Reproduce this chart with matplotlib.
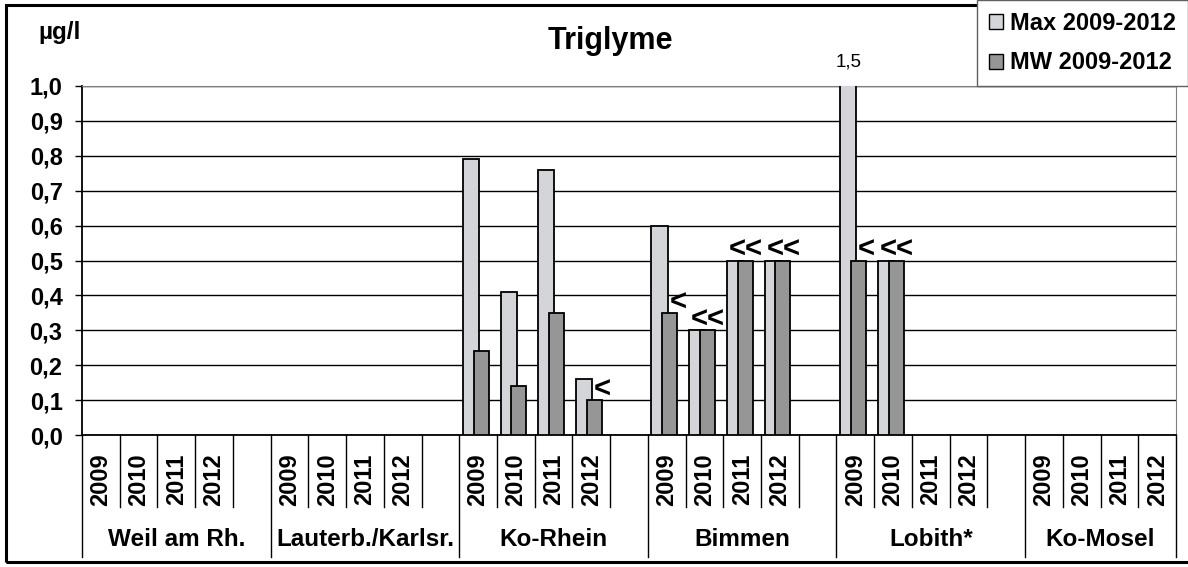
import matplotlib.pyplot as plt
from matplotlib.patches import Patch, Rectangle

plt.rcParams["font.family"] = ["Liberation Sans", "DejaVu Sans"]

stations = ["Weil am Rh.", "Lauterb./Karlsr.", "Ko-Rhein", "Bimmen", "Lobith*", "Ko-Mosel"]
years = ["2009", "2010", "2011", "2012"]

# values per station, per year (None = no data)
max_vals = [
    [None, None, None, None],
    [None, None, None, None],
    [0.79, 0.41, 0.76, 0.16],
    [0.60, 0.30, 0.50, 0.50],
    [1.50, 0.50, None, None],
    [None, None, None, None],
]
mw_vals = [
    [None, None, None, None],
    [None, None, None, None],
    [0.24, 0.14, 0.35, 0.10],
    [0.35, 0.30, 0.50, 0.50],
    [0.50, 0.50, None, None],
    [None, None, None, None],
]
flags = [
    ["", "", "", ""],
    ["", "", "", ""],
    ["", "", "", "<"],
    ["<", "<<", "<<", "<<"],
    ["<", "<<", "", ""],
    ["", "", "", ""],
]

light = "#D4D5D8"
dark = "#969696"
W, H = 1188, 567

fig = plt.figure(figsize=(W / 100, H / 100), dpi=100)
ax = fig.add_axes([82 / W, 1 - 435 / H, (1176 - 82) / W, (435 - 86) / H])

slots_per_station = 5
for s in range(len(stations)):
    for y in range(len(years)):
        x = s * slots_per_station + y
        mx = max_vals[s][y]
        mw = mw_vals[s][y]
        if mx is not None:
            ax.bar(x - 0.19, mx, width=0.43, color=light, edgecolor="black", linewidth=1.3, zorder=3)
            if mx > 1.0:
                ax.text(x - 0.19, 1.07, str(mx).replace(".", ","), ha="center", va="center",
                        fontsize=13.5, transform=ax.get_xaxis_transform(), clip_on=False)
        if mw is not None:
            ax.bar(x + 0.08, mw, width=0.40, color=dark, edgecolor="black", linewidth=1.3, zorder=4)
        f = flags[s][y]
        if f:
            top = mw if mw is not None else 0
            off = 0.30 if f == "<" else 0.10
            ax.annotate(f, (x + off, top), xytext=(0, 7.5), textcoords="offset points",
                        ha="center", va="center", fontsize=21, fontweight="bold", zorder=5)

n_slots = len(stations) * slots_per_station - 1
ax.set_xlim(-0.5, n_slots - 0.5)
ax.set_ylim(0, 1.0)
ax.set_yticks([i / 10 for i in range(11)])
ax.set_yticklabels([f"{i / 10:.1f}".replace(".", ",") for i in range(11)],
                   fontsize=17, fontweight="bold")
ax.tick_params(axis="y", direction="out", length=5, width=1, pad=9)
ax.set_xticks([])
ax.grid(axis="y", color="black", linewidth=1, zorder=0)
ax.set_axisbelow(True)
ax.spines["left"].set_linewidth(1.3)
ax.spines["bottom"].set_linewidth(1.3)
for side in ["top", "right"]:
    ax.spines[side].set_color("#808080")

# category axis: year labels, separators, station names
trans = ax.get_xaxis_transform()
for s, name in enumerate(stations):
    for y, yr in enumerate(years):
        x = s * slots_per_station + y
        ax.text(x, -0.128, yr, rotation=90, ha="center", va="center", fontsize=17,
                fontweight="bold", transform=trans)
    cx = s * slots_per_station + (2.0 if s < len(stations) - 1 else 1.5)
    ax.text(cx, -0.30, name, ha="center", va="center", fontsize=17.5, fontweight="bold",
            transform=trans)
for b in range(n_slots + 1):
    xb = b - 0.5
    long_line = b % slots_per_station == 0 or b == n_slots
    ax.plot([xb, xb], [0, -0.35 if long_line else -0.205], color="black", linewidth=1,
            transform=trans, clip_on=False)

fig.text(60 / W, 1 - 39 / H, "µg/l", ha="center", va="baseline", fontsize=17.5, fontweight="bold")
fig.text(610 / W, 1 - 49 / H, "Triglyme", ha="center", va="baseline", fontsize=22, fontweight="bold")

# outer chart border
fig.add_artist(Rectangle((6 / W, 5 / H), 1.01, 557 / H, transform=fig.transFigure,
                         fill=False, edgecolor="black", linewidth=2.2))

handles = [Patch(facecolor=light, edgecolor="black", label="Max 2009-2012"),
           Patch(facecolor=dark, edgecolor="black", label="MW 2009-2012")]
leg = fig.legend(handles=handles, loc="upper right", bbox_to_anchor=(1.0, 1.0),
                 prop={"weight": "bold", "size": 17}, frameon=True, fancybox=False,
                 handlelength=0.6, handleheight=0.6, handletextpad=0.3, borderpad=0.5,
                 labelspacing=0.7, borderaxespad=0.0)
leg.get_frame().set_edgecolor("#606060")
leg.get_frame().set_linewidth(1)
leg.get_frame().set_alpha(1)

fig.savefig("out.png", dpi=100)
